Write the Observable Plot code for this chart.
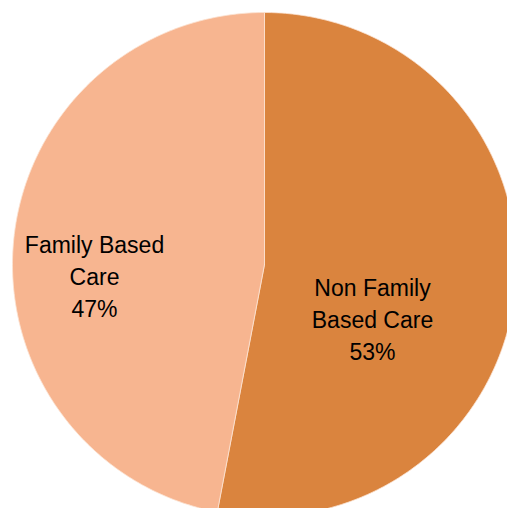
<!DOCTYPE html>
<html>
<head>
<meta charset="utf-8">
<script src="https://cdn.jsdelivr.net/npm/d3@7"></script>
<script src="https://cdn.jsdelivr.net/npm/@observablehq/plot@0.6"></script>
<style>
  html, body { margin: 0; padding: 0; background: #fff; }
</style>
</head>
<body>
<div id="chart"></div>
<script>
// Data
const categories = ["Non Family Based Care", "Family Based Care"];
const values = [53, 47];
const labelLines = [["Non Family", "Based Care", "53%"], ["Family Based", "Care", "47%"]];
const colors = ["#DA843E", "#F7B590"];

// Layout (pixels)
const W = 507, H = 508;
const cx = 264, cy = 264, R = 252;
// label centers in pixel space (manually placed as in the reference)
const labelCenter = [[372, 320], [94, 277]];

const pie = d3.pie().sort(null).value(d => d.value);
const arcs = pie(categories.map((c, i) => ({category: c, value: values[i], i})));

// Build slice polygons from the pie angles (angle 0 = top, clockwise)
const polyPts = [];
arcs.forEach(a => {
  const n = 240;
  polyPts.push({category: a.data.category, x: 0, y: 0});
  for (let k = 0; k <= n; k++) {
    const t = a.startAngle + (a.endAngle - a.startAngle) * k / n;
    polyPts.push({category: a.data.category, x: R * Math.sin(t), y: -R * Math.cos(t)});
  }
  polyPts.push({category: a.data.category, x: 0, y: 0});
});

const textRows = [];
labelLines.forEach((lines, i) => {
  lines.forEach((t, j) => {
    textRows.push({text: t, x: labelCenter[i][0] - cx, y: labelCenter[i][1] - cy + (j - 1) * 32});
  });
});

const chart = Plot.plot({
  width: W,
  height: H,
  margin: 0,
  x: {domain: [-cx, W - cx], range: [0, W], axis: null},
  y: {domain: [-cy, H - cy], range: [0, H], axis: null},
  color: {domain: categories, range: colors},
  style: {background: "#fff"},
  marks: [
    Plot.line(polyPts, {x: "x", y: "y", z: "category", fill: "category", stroke: "#fbe3d3", strokeWidth: 0.8, curve: "linear"}),
    Plot.text(textRows, {x: "x", y: "y", text: "text", fill: "#000", fontSize: 23, fontFamily: "Liberation Sans, Arial, sans-serif", textAnchor: "middle", lineAnchor: "middle"})
  ]
});
document.getElementById("chart").appendChild(chart);
</script>
</body>
</html>
